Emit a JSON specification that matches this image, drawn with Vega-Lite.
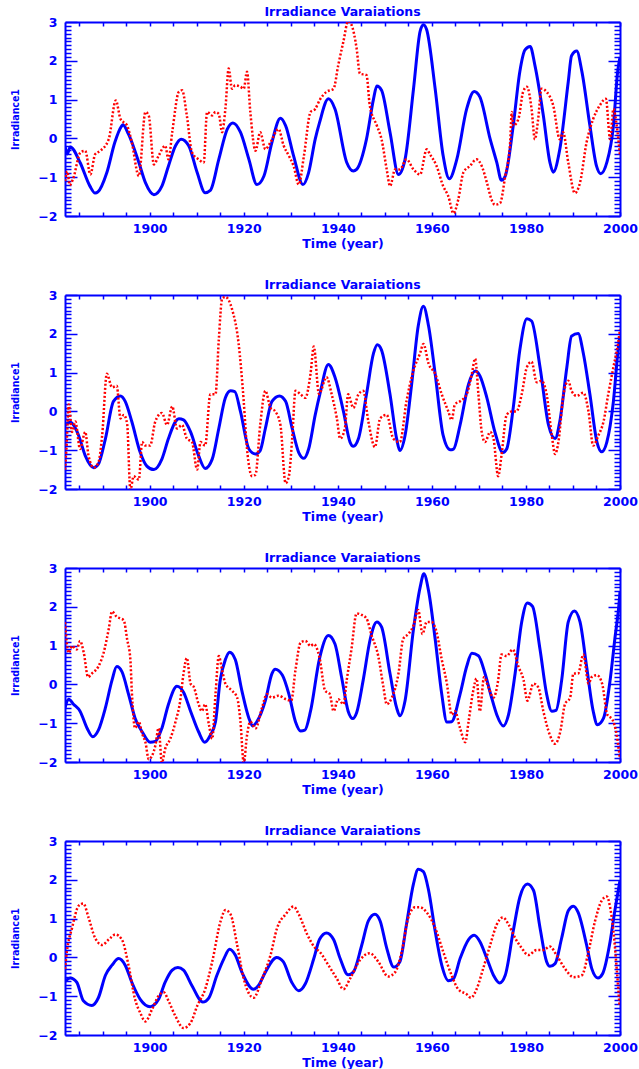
{
"$schema": "https://vega.github.io/schema/vega-lite/v6.json",
"background": "white",
"padding": {"left": 10, "top": 5, "right": 0, "bottom": 0},
"spacing": 28,
"config": {
  "view": {"stroke": null},
  "font": "DejaVu Sans",
  "title": {"font": "DejaVu Sans", "fontSize": 12.5, "fontWeight": "bold", "color": "#0000ff", "offset": -2},
  "axis": {"domainColor": "#0000ff", "domainWidth": 2, "tickColor": "#0000ff", "tickWidth": 1.5, "labelColor": "#0000ff", "labelFont": "DejaVu Sans", "labelFontWeight": "bold", "labelFontSize": 12.5, "labelFlush": false, "labelOverlap": false, "labelBound": false, "grid": false, "titleColor": "#0000ff", "titleFont": "DejaVu Sans", "titleFontWeight": "bold", "titleFontSize": 12.5}
},
"datasets": {
"p1b": [{"t":1882,"v":-0.2},{"t":1882.5,"v":-0.4},{"t":1883.1,"v":-0.22},{"t":1885.2,"v":-0.62},{"t":1887.3,"v":-1.23},{"t":1888.4,"v":-1.41},{"t":1889,"v":-1.38},{"t":1890.9,"v":-0.88},{"t":1892.6,"v":-0.1},{"t":1894.0,"v":0.31},{"t":1894.3,"v":0.35},{"t":1895.5,"v":0.11},{"t":1897.7,"v":-0.62},{"t":1899.1,"v":-1.14},{"t":1900.9,"v":-1.45},{"t":1902.6,"v":-1.23},{"t":1904.0,"v":-0.71},{"t":1905.5,"v":-0.19},{"t":1906.7,"v":-0.02},{"t":1908.3,"v":-0.19},{"t":1910.1,"v":-0.88},{"t":1911.8,"v":-1.4},{"t":1912.9,"v":-1.34},{"t":1914.7,"v":-0.54},{"t":1916.5,"v":0.24},{"t":1917.7,"v":0.4},{"t":1919.3,"v":0.16},{"t":1921.1,"v":-0.54},{"t":1922.8,"v":-1.19},{"t":1924.3,"v":-0.97},{"t":1926.0,"v":-0.1},{"t":1927.8,"v":0.52},{"t":1928.9,"v":0.33},{"t":1930.6,"v":-0.45},{"t":1932.6,"v":-1.19},{"t":1933.8,"v":-0.88},{"t":1935.2,"v":-0.02},{"t":1936.1,"v":0.4},{"t":1938.0,"v":1.02},{"t":1939.4,"v":0.76},{"t":1941.9,"v":-0.62},{"t":1943.3,"v":-0.84},{"t":1944.0,"v":-0.8},{"t":1946.1,"v":-0.02},{"t":1947.6,"v":1.02},{"t":1948.3,"v":1.35},{"t":1949.3,"v":1.24},{"t":1951.1,"v":0.16},{"t":1952.9,"v":-0.93},{"t":1954.3,"v":-0.54},{"t":1956.1,"v":1.28},{"t":1957.5,"v":2.76},{"t":1958.2,"v":2.93},{"t":1958.9,"v":2.8},{"t":1960.7,"v":1.28},{"t":1962.4,"v":-0.45},{"t":1963.7,"v":-1.04},{"t":1965.3,"v":-0.54},{"t":1967.4,"v":0.76},{"t":1969.0,"v":1.21},{"t":1970.2,"v":1.07},{"t":1972.4,"v":-0.02},{"t":1973.8,"v":-0.62},{"t":1974.8,"v":-1.08},{"t":1975.6,"v":-0.97},{"t":1977.3,"v":0.33},{"t":1978.7,"v":1.72},{"t":1979.8,"v":2.28},{"t":1980.9,"v":2.37},{"t":1981.9,"v":1.89},{"t":1983.7,"v":0.59},{"t":1985.1,"v":-0.62},{"t":1985.8,"v":-0.87},{"t":1987.2,"v":-0.28},{"t":1989.0,"v":1.46},{"t":1989.7,"v":2.13},{"t":1990.8,"v":2.25},{"t":1991.9,"v":1.72},{"t":1993.6,"v":0.33},{"t":1995.0,"v":-0.71},{"t":1995.9,"v":-0.91},{"t":1997.2,"v":-0.62},{"t":1998.6,"v":0.33},{"t":1999.5,"v":1.72},{"t":2000,"v":2.1}],
"p1r": [{"t":1882,"v":-1.1},{"t":1882.5,"v":-0.85},{"t":1883,"v":-1.2},{"t":1883.7,"v":-1.05},{"t":1885.3,"v":-0.36},{"t":1886.3,"v":-0.32},{"t":1887.4,"v":-0.93},{"t":1888.4,"v":-0.41},{"t":1889.5,"v":-0.32},{"t":1891.3,"v":-0.02},{"t":1892.8,"v":0.98},{"t":1893.8,"v":0.5},{"t":1895.2,"v":0.33},{"t":1896.2,"v":-0.1},{"t":1897.7,"v":-0.97},{"t":1899.1,"v":0.68},{"t":1899.8,"v":0.59},{"t":1900.9,"v":-0.67},{"t":1901.9,"v":-0.45},{"t":1903.3,"v":-0.19},{"t":1904.0,"v":-0.54},{"t":1904.8,"v":0.16},{"t":1906.2,"v":1.2},{"t":1906.9,"v":1.24},{"t":1907.9,"v":0.59},{"t":1909.0,"v":-0.36},{"t":1910.4,"v":-0.54},{"t":1911.5,"v":-0.62},{"t":1912.2,"v":0.68},{"t":1913.3,"v":0.59},{"t":1914.0,"v":0.68},{"t":1914.7,"v":0.63},{"t":1915.4,"v":0.16},{"t":1916.1,"v":0.76},{"t":1916.8,"v":1.8},{"t":1917.5,"v":1.28},{"t":1918.2,"v":1.37},{"t":1919.3,"v":1.33},{"t":1920.0,"v":1.28},{"t":1920.7,"v":1.72},{"t":1921.4,"v":0.68},{"t":1922.5,"v":-0.32},{"t":1923.5,"v":0.16},{"t":1924.6,"v":-0.28},{"t":1925.7,"v":-0.1},{"t":1927.4,"v":0.24},{"t":1928.5,"v":-0.19},{"t":1929.6,"v":-0.45},{"t":1930.6,"v":-0.71},{"t":1931.7,"v":-1.19},{"t":1932.8,"v":-0.45},{"t":1934.2,"v":0.68},{"t":1935.2,"v":0.76},{"t":1936.2,"v":1.0},{"t":1937.6,"v":1.2},{"t":1939.1,"v":1.28},{"t":1940.1,"v":1.89},{"t":1941.2,"v":2.5},{"t":1942.2,"v":3.02},{"t":1942.9,"v":2.93},{"t":1944.0,"v":2.32},{"t":1944.7,"v":1.67},{"t":1946.1,"v":1.63},{"t":1946.8,"v":0.85},{"t":1948.3,"v":0.33},{"t":1949.3,"v":-0.02},{"t":1950.4,"v":-0.8},{"t":1951.1,"v":-1.23},{"t":1952.2,"v":-0.8},{"t":1953.2,"v":-0.8},{"t":1954.6,"v":-0.54},{"t":1956.1,"v":-0.8},{"t":1957.5,"v":-0.93},{"t":1958.9,"v":-0.28},{"t":1959.6,"v":-0.41},{"t":1961.0,"v":-0.71},{"t":1962.4,"v":-1.23},{"t":1963.5,"v":-1.49},{"t":1964.6,"v":-1.93},{"t":1965.6,"v":-1.58},{"t":1966.7,"v":-0.88},{"t":1968.1,"v":-0.71},{"t":1969.5,"v":-0.54},{"t":1970.6,"v":-0.71},{"t":1971.7,"v":-1.14},{"t":1972.7,"v":-1.58},{"t":1973.4,"v":-1.71},{"t":1974.5,"v":-1.67},{"t":1975.6,"v":-0.97},{"t":1976.6,"v":-0.19},{"t":1977.0,"v":0.68},{"t":1977.3,"v":0.33},{"t":1978.4,"v":0.5},{"t":1979.4,"v":1.2},{"t":1980.2,"v":1.33},{"t":1981.2,"v":0.76},{"t":1981.9,"v":-0.02},{"t":1982.6,"v":0.5},{"t":1983.3,"v":1.28},{"t":1984.4,"v":1.2},{"t":1985.8,"v":0.85},{"t":1987.2,"v":-0.02},{"t":1987.9,"v":0.16},{"t":1989.0,"v":-0.62},{"t":1990.4,"v":-1.41},{"t":1991.5,"v":-1.14},{"t":1992.9,"v":-0.1},{"t":1994.3,"v":0.5},{"t":1995.7,"v":0.85},{"t":1997.0,"v":1.02},{"t":1997.9,"v":-0.02},{"t":1998.6,"v":0.76},{"t":1999.3,"v":0.33},{"t":2000,"v":-0.45}],
"p2b": [{"t":1882,"v":-0.35},{"t":1883.1,"v":-0.28},{"t":1884.9,"v":-0.62},{"t":1886.3,"v":-1.14},{"t":1888.1,"v":-1.45},{"t":1889.1,"v":-1.36},{"t":1890.6,"v":-0.7},{"t":1892.3,"v":0.26},{"t":1893.8,"v":0.4},{"t":1894.8,"v":0.26},{"t":1896.2,"v":-0.26},{"t":1898.0,"v":-1.06},{"t":1899.4,"v":-1.41},{"t":1900.9,"v":-1.5},{"t":1902.6,"v":-1.23},{"t":1904.0,"v":-0.7},{"t":1905.5,"v":-0.26},{"t":1906.2,"v":-0.19},{"t":1907.2,"v":-0.22},{"t":1908.7,"v":-0.53},{"t":1910.4,"v":-1.14},{"t":1911.8,"v":-1.47},{"t":1913.3,"v":-1.23},{"t":1914.7,"v":-0.44},{"t":1916.1,"v":0.35},{"t":1917.2,"v":0.53},{"t":1918.1,"v":0.51},{"t":1919.3,"v":0.0},{"t":1921.1,"v":-0.97},{"t":1922.5,"v":-1.1},{"t":1923.5,"v":-1.01},{"t":1924.6,"v":-0.44},{"t":1926.0,"v":0.26},{"t":1927.6,"v":0.4},{"t":1928.9,"v":0.26},{"t":1930.3,"v":-0.44},{"t":1931.7,"v":-1.06},{"t":1932.8,"v":-1.21},{"t":1933.8,"v":-0.97},{"t":1935.2,"v":-0.09},{"t":1936.2,"v":0.45},{"t":1938.0,"v":1.21},{"t":1939.4,"v":0.88},{"t":1941.2,"v":0.0},{"t":1942.6,"v":-0.79},{"t":1943.3,"v":-0.9},{"t":1944.4,"v":-0.7},{"t":1946.1,"v":0.44},{"t":1947.6,"v":1.5},{"t":1948.4,"v":1.72},{"t":1949.3,"v":1.58},{"t":1951.1,"v":0.44},{"t":1952.5,"v":-0.7},{"t":1953.2,"v":-1.01},{"t":1954.3,"v":-0.62},{"t":1955.7,"v":0.7},{"t":1957.1,"v":2.2},{"t":1958.2,"v":2.71},{"t":1959.3,"v":2.2},{"t":1960.7,"v":0.97},{"t":1962.4,"v":-0.62},{"t":1963.9,"v":-0.99},{"t":1964.6,"v":-0.97},{"t":1966.0,"v":-0.35},{"t":1967.8,"v":0.7},{"t":1969.2,"v":1.04},{"t":1970.2,"v":0.92},{"t":1971.7,"v":0.35},{"t":1973.4,"v":-0.53},{"t":1975.1,"v":-1.06},{"t":1975.9,"v":-0.97},{"t":1977.3,"v":0.09},{"t":1978.7,"v":1.58},{"t":1980.2,"v":2.39},{"t":1981.2,"v":2.33},{"t":1983.0,"v":1.14},{"t":1984.8,"v":-0.35},{"t":1986.2,"v":-0.7},{"t":1987.2,"v":-0.26},{"t":1988.7,"v":1.14},{"t":1989.7,"v":1.94},{"t":1991.1,"v":2.01},{"t":1992.2,"v":1.5},{"t":1993.6,"v":0.44},{"t":1995.1,"v":-0.79},{"t":1996.1,"v":-1.04},{"t":1997.2,"v":-0.79},{"t":1998.6,"v":0.26},{"t":1999.6,"v":1.58},{"t":2000,"v":1.94}],
"p2r": [{"t":1882,"v":-1.5},{"t":1882.3,"v":-0.97},{"t":1882.8,"v":0.18},{"t":1883.5,"v":-0.53},{"t":1884.2,"v":-0.26},{"t":1885.2,"v":-0.97},{"t":1886.3,"v":-0.53},{"t":1887.0,"v":-1.14},{"t":1888.1,"v":-1.45},{"t":1889.1,"v":-1.32},{"t":1889.9,"v":-0.62},{"t":1890.9,"v":0.97},{"t":1892.0,"v":0.62},{"t":1893.0,"v":0.66},{"t":1893.8,"v":-0.18},{"t":1894.5,"v":-0.09},{"t":1895.2,"v":-0.31},{"t":1895.9,"v":-2.02},{"t":1896.6,"v":-1.67},{"t":1897.7,"v":-1.76},{"t":1898.4,"v":-0.79},{"t":1899.1,"v":-0.88},{"t":1900.1,"v":-0.88},{"t":1901.2,"v":-0.26},{"t":1902.6,"v":-0.04},{"t":1903.7,"v":-0.35},{"t":1904.8,"v":0.13},{"t":1905.8,"v":-0.44},{"t":1906.9,"v":-0.35},{"t":1907.9,"v":-0.7},{"t":1909.0,"v":-0.79},{"t":1910.1,"v":-1.5},{"t":1910.8,"v":-0.79},{"t":1911.8,"v":-0.88},{"t":1912.9,"v":0.44},{"t":1914.0,"v":0.44},{"t":1914.7,"v":1.85},{"t":1915.4,"v":2.9},{"t":1916.1,"v":2.95},{"t":1917.5,"v":2.64},{"t":1918.9,"v":1.76},{"t":1920.0,"v":0.26},{"t":1920.7,"v":-0.97},{"t":1921.8,"v":-1.67},{"t":1922.5,"v":-1.63},{"t":1923.5,"v":-0.35},{"t":1924.6,"v":0.53},{"t":1925.7,"v":0.09},{"t":1926.7,"v":0.0},{"t":1927.8,"v":-0.35},{"t":1928.9,"v":-1.85},{"t":1929.6,"v":-1.67},{"t":1930.3,"v":-0.7},{"t":1931.0,"v":0.53},{"t":1932.1,"v":0.44},{"t":1933.1,"v":0.35},{"t":1934.2,"v":0.97},{"t":1934.9,"v":1.67},{"t":1936.0,"v":0.45},{"t":1937.6,"v":0.88},{"t":1938.7,"v":0.44},{"t":1939.8,"v":-0.18},{"t":1940.5,"v":-0.7},{"t":1941.5,"v":-0.44},{"t":1942.2,"v":0.44},{"t":1943.3,"v":0.09},{"t":1944.4,"v":0.44},{"t":1945.4,"v":0.53},{"t":1946.5,"v":-0.26},{"t":1947.9,"v":-0.92},{"t":1949.0,"v":-0.18},{"t":1950.4,"v":-0.09},{"t":1951.8,"v":-0.7},{"t":1953.2,"v":-0.79},{"t":1954.6,"v":0.26},{"t":1956.1,"v":1.06},{"t":1957.5,"v":1.5},{"t":1958.2,"v":1.74},{"t":1959.3,"v":1.23},{"t":1960.7,"v":0.97},{"t":1962.1,"v":0.44},{"t":1963.5,"v":0.0},{"t":1964.2,"v":-0.22},{"t":1964.9,"v":0.18},{"t":1966.0,"v":0.26},{"t":1967.4,"v":0.44},{"t":1968.5,"v":0.97},{"t":1969.2,"v":1.36},{"t":1969.9,"v":0.44},{"t":1970.6,"v":-0.53},{"t":1971.3,"v":-0.79},{"t":1972.4,"v":-0.53},{"t":1973.1,"v":-0.7},{"t":1974.1,"v":-1.67},{"t":1974.8,"v":-1.14},{"t":1975.9,"v":-0.09},{"t":1977.0,"v":0.0},{"t":1978.0,"v":0.0},{"t":1979.1,"v":0.44},{"t":1980.2,"v":1.14},{"t":1981.2,"v":1.28},{"t":1982.3,"v":0.75},{"t":1983.3,"v":0.79},{"t":1984.4,"v":0.44},{"t":1985.5,"v":-0.62},{"t":1986.2,"v":-1.1},{"t":1986.9,"v":-0.79},{"t":1988.0,"v":0.44},{"t":1989.0,"v":0.79},{"t":1989.7,"v":0.53},{"t":1990.8,"v":0.4},{"t":1992.2,"v":0.48},{"t":1993.3,"v":0.0},{"t":1994.3,"v":-0.88},{"t":1995.4,"v":-0.62},{"t":1996.5,"v":-0.26},{"t":1997.5,"v":0.44},{"t":1998.6,"v":1.14},{"t":1999.6,"v":1.76},{"t":2000,"v":2.11}],
"p3b": [{"t":1882,"v":-0.6},{"t":1882.8,"v":-0.38},{"t":1883.8,"v":-0.51},{"t":1885.2,"v":-0.69},{"t":1886.7,"v":-1.13},{"t":1887.9,"v":-1.35},{"t":1889.1,"v":-1.18},{"t":1890.6,"v":-0.6},{"t":1892.0,"v":0.11},{"t":1893.0,"v":0.46},{"t":1894.1,"v":0.33},{"t":1895.5,"v":-0.25},{"t":1896.9,"v":-0.87},{"t":1898.4,"v":-1.22},{"t":1900.1,"v":-1.49},{"t":1901.2,"v":-1.47},{"t":1902.6,"v":-1.13},{"t":1904.0,"v":-0.51},{"t":1905.8,"v":-0.05},{"t":1907.2,"v":-0.2},{"t":1908.7,"v":-0.69},{"t":1910.4,"v":-1.22},{"t":1911.7,"v":-1.49},{"t":1912.9,"v":-1.31},{"t":1914.0,"v":-0.96},{"t":1915.0,"v":0.11},{"t":1916.1,"v":0.64},{"t":1917.0,"v":0.83},{"t":1918.2,"v":0.64},{"t":1919.6,"v":-0.16},{"t":1921.1,"v":-0.87},{"t":1921.9,"v":-1.07},{"t":1922.8,"v":-0.96},{"t":1924.6,"v":-0.42},{"t":1926.0,"v":0.28},{"t":1926.7,"v":0.39},{"t":1928.2,"v":0.24},{"t":1929.6,"v":-0.25},{"t":1931.0,"v":-0.96},{"t":1932.1,"v":-1.2},{"t":1933.0,"v":-1.18},{"t":1934.2,"v":-0.69},{"t":1936.1,"v":0.66},{"t":1938.0,"v":1.26},{"t":1939.4,"v":1.04},{"t":1940.8,"v":0.19},{"t":1942.2,"v":-0.69},{"t":1943.2,"v":-0.88},{"t":1944.0,"v":-0.73},{"t":1945.4,"v":0.11},{"t":1946.9,"v":1.17},{"t":1948.3,"v":1.61},{"t":1949.3,"v":1.48},{"t":1951.1,"v":0.28},{"t":1952.5,"v":-0.6},{"t":1953.2,"v":-0.81},{"t":1954.3,"v":-0.42},{"t":1956.1,"v":1.43},{"t":1957.5,"v":2.5},{"t":1958.3,"v":2.85},{"t":1959.3,"v":2.41},{"t":1960.7,"v":1.17},{"t":1962.1,"v":-0.25},{"t":1963.2,"v":-0.97},{"t":1964.2,"v":-0.96},{"t":1966.0,"v":-0.25},{"t":1967.4,"v":0.46},{"t":1968.5,"v":0.8},{"t":1969.9,"v":0.74},{"t":1971.3,"v":0.28},{"t":1972.7,"v":-0.34},{"t":1973.8,"v":-0.78},{"t":1975.2,"v":-1.07},{"t":1976.3,"v":-0.78},{"t":1977.7,"v":0.28},{"t":1979.1,"v":1.61},{"t":1980.3,"v":2.1},{"t":1981.4,"v":2.01},{"t":1983.0,"v":0.9},{"t":1984.4,"v":-0.25},{"t":1985.5,"v":-0.69},{"t":1986.4,"v":-0.67},{"t":1987.6,"v":0.11},{"t":1989.0,"v":1.61},{"t":1990.3,"v":1.89},{"t":1991.5,"v":1.61},{"t":1992.9,"v":0.46},{"t":1994.3,"v":-0.69},{"t":1995.2,"v":-1.04},{"t":1996.5,"v":-0.87},{"t":1997.9,"v":0.11},{"t":1998.9,"v":1.17},{"t":1999.9,"v":2.23},{"t":2000,"v":2.4}],
"p3r": [{"t":1882,"v":1.6},{"t":1882.8,"v":0.81},{"t":1883.5,"v":0.99},{"t":1884.5,"v":0.9},{"t":1885.2,"v":1.12},{"t":1886.0,"v":0.81},{"t":1886.9,"v":0.19},{"t":1887.7,"v":0.28},{"t":1889.1,"v":0.46},{"t":1890.2,"v":0.81},{"t":1891.3,"v":1.43},{"t":1892.0,"v":1.88},{"t":1893.0,"v":1.74},{"t":1893.8,"v":1.7},{"t":1894.5,"v":1.65},{"t":1895.2,"v":1.17},{"t":1895.9,"v":0.64},{"t":1896.2,"v":-0.16},{"t":1896.9,"v":-1.13},{"t":1897.7,"v":-0.96},{"t":1898.4,"v":-1.27},{"t":1899.1,"v":-1.49},{"t":1899.8,"v":-1.93},{"t":1900.5,"v":-1.84},{"t":1901.2,"v":-1.58},{"t":1901.9,"v":-1.13},{"t":1902.6,"v":-2.02},{"t":1903.3,"v":-1.66},{"t":1904.4,"v":-1.4},{"t":1905.5,"v":-0.96},{"t":1906.5,"v":-0.42},{"t":1907.2,"v":0.28},{"t":1907.9,"v":0.68},{"t":1908.7,"v":0.02},{"t":1909.4,"v":-0.07},{"t":1910.4,"v":-0.51},{"t":1911.1,"v":-0.69},{"t":1911.8,"v":-0.51},{"t":1912.6,"v":-1.04},{"t":1913.3,"v":-1.4},{"t":1914.0,"v":-0.25},{"t":1914.7,"v":0.73},{"t":1915.4,"v":0.37},{"t":1916.1,"v":0.02},{"t":1917.5,"v":-0.16},{"t":1918.6,"v":-0.34},{"t":1919.3,"v":-0.96},{"t":1920.0,"v":-2.02},{"t":1920.7,"v":-1.31},{"t":1921.4,"v":-0.96},{"t":1922.5,"v":-1.13},{"t":1923.9,"v":-0.6},{"t":1924.9,"v":-0.25},{"t":1926.0,"v":-0.34},{"t":1927.4,"v":-0.29},{"t":1928.9,"v":-0.38},{"t":1930.1,"v":-0.42},{"t":1931.0,"v":0.37},{"t":1932.1,"v":1.08},{"t":1933.1,"v":1.12},{"t":1934.2,"v":0.99},{"t":1934.9,"v":1.04},{"t":1936.1,"v":0.7},{"t":1937.3,"v":-0.16},{"t":1938.3,"v":-0.25},{"t":1939.1,"v":-0.69},{"t":1940.1,"v":-0.38},{"t":1941.2,"v":-0.51},{"t":1941.9,"v":0.11},{"t":1942.9,"v":0.9},{"t":1944.0,"v":1.83},{"t":1945.1,"v":1.79},{"t":1946.1,"v":1.7},{"t":1947.2,"v":1.26},{"t":1948.6,"v":0.73},{"t":1949.7,"v":-0.07},{"t":1950.4,"v":-0.51},{"t":1951.5,"v":-0.34},{"t":1952.9,"v":0.28},{"t":1953.9,"v":1.17},{"t":1955.0,"v":1.3},{"t":1956.1,"v":1.52},{"t":1957.1,"v":1.92},{"t":1958.0,"v":1.3},{"t":1958.9,"v":1.61},{"t":1959.9,"v":1.61},{"t":1961.0,"v":1.35},{"t":1962.1,"v":0.64},{"t":1963.2,"v":0.02},{"t":1964.2,"v":-0.78},{"t":1964.9,"v":-0.69},{"t":1966.0,"v":-1.13},{"t":1967.1,"v":-1.49},{"t":1967.8,"v":-0.96},{"t":1968.8,"v":-0.16},{"t":1969.5,"v":0.15},{"t":1970.2,"v":-0.69},{"t":1971.1,"v":0.19},{"t":1972.0,"v":-0.07},{"t":1973.1,"v":-0.34},{"t":1974.1,"v":0.11},{"t":1974.8,"v":0.77},{"t":1975.9,"v":0.73},{"t":1977.2,"v":0.9},{"t":1978.4,"v":0.46},{"t":1979.5,"v":0.11},{"t":1980.3,"v":-0.42},{"t":1981.6,"v":0.02},{"t":1982.6,"v":-0.07},{"t":1983.7,"v":-0.69},{"t":1985.1,"v":-1.31},{"t":1986.2,"v":-1.53},{"t":1987.3,"v":-1.22},{"t":1988.3,"v":-0.51},{"t":1989.4,"v":-0.34},{"t":1990.1,"v":0.28},{"t":1991.1,"v":0.28},{"t":1992.2,"v":0.77},{"t":1993.3,"v":0.02},{"t":1994.0,"v":0.19},{"t":1995.1,"v":0.24},{"t":1996.2,"v":0.02},{"t":1997.3,"v":-0.78},{"t":1998.4,"v":-0.91},{"t":1999.3,"v":-1.31},{"t":2000,"v":-1.93}],
"p4b": [{"t":1882,"v":-0.62},{"t":1883.1,"v":-0.53},{"t":1884.5,"v":-0.64},{"t":1885.9,"v":-1.12},{"t":1887.7,"v":-1.24},{"t":1889.1,"v":-1.04},{"t":1890.6,"v":-0.46},{"t":1892.0,"v":-0.2},{"t":1893.4,"v":-0.03},{"t":1894.8,"v":-0.2},{"t":1896.2,"v":-0.64},{"t":1898.0,"v":-1.08},{"t":1900.1,"v":-1.27},{"t":1901.9,"v":-1.08},{"t":1903.3,"v":-0.64},{"t":1904.8,"v":-0.33},{"t":1906.0,"v":-0.26},{"t":1907.2,"v":-0.33},{"t":1909.0,"v":-0.73},{"t":1911.3,"v":-1.15},{"t":1912.6,"v":-1.04},{"t":1914.3,"v":-0.46},{"t":1915.8,"v":-0.03},{"t":1917.0,"v":0.21},{"t":1918.2,"v":0.06},{"t":1919.6,"v":-0.38},{"t":1922.1,"v":-0.82},{"t":1923.1,"v":-0.73},{"t":1924.6,"v":-0.38},{"t":1927.0,"v":0.0},{"t":1928.4,"v":-0.11},{"t":1930.2,"v":-0.64},{"t":1931.7,"v":-0.86},{"t":1933.1,"v":-0.68},{"t":1934.9,"v":-0.03},{"t":1936.1,"v":0.46},{"t":1937.6,"v":0.63},{"t":1939.1,"v":0.46},{"t":1940.5,"v":-0.03},{"t":1942.2,"v":-0.45},{"t":1943.3,"v":-0.38},{"t":1945.1,"v":0.32},{"t":1946.5,"v":0.94},{"t":1947.9,"v":1.11},{"t":1949.0,"v":0.94},{"t":1950.4,"v":0.24},{"t":1951.9,"v":-0.25},{"t":1953.2,"v":-0.11},{"t":1954.6,"v":0.85},{"t":1956.1,"v":1.9},{"t":1957.1,"v":2.27},{"t":1958.2,"v":2.21},{"t":1959.3,"v":1.73},{"t":1960.7,"v":0.68},{"t":1962.1,"v":-0.2},{"t":1963.5,"v":-0.6},{"t":1964.6,"v":-0.55},{"t":1966.0,"v":-0.03},{"t":1967.8,"v":0.46},{"t":1969.0,"v":0.57},{"t":1970.2,"v":0.41},{"t":1971.7,"v":-0.03},{"t":1973.1,"v":-0.46},{"t":1974.4,"v":-0.66},{"t":1975.6,"v":-0.46},{"t":1977.3,"v":0.68},{"t":1978.7,"v":1.55},{"t":1980.3,"v":1.89},{"t":1981.6,"v":1.73},{"t":1983.0,"v":0.76},{"t":1984.4,"v":-0.11},{"t":1985.1,"v":-0.23},{"t":1986.2,"v":-0.16},{"t":1987.6,"v":0.5},{"t":1989.0,"v":1.2},{"t":1990.1,"v":1.32},{"t":1991.1,"v":1.16},{"t":1992.9,"v":0.32},{"t":1994.0,"v":-0.29},{"t":1995.3,"v":-0.53},{"t":1996.3,"v":-0.42},{"t":1997.9,"v":0.41},{"t":1998.9,"v":1.2},{"t":2000,"v":1.99}],
"p4r": [{"t":1882,"v":-0.3},{"t":1882.4,"v":0.15},{"t":1883.5,"v":0.76},{"t":1884.9,"v":1.33},{"t":1885.9,"v":1.39},{"t":1887.0,"v":1.03},{"t":1888.4,"v":0.5},{"t":1889.9,"v":0.32},{"t":1891.3,"v":0.46},{"t":1892.7,"v":0.59},{"t":1894.1,"v":0.46},{"t":1895.5,"v":-0.2},{"t":1896.9,"v":-1.08},{"t":1898.0,"v":-1.43},{"t":1899.1,"v":-1.65},{"t":1900.5,"v":-1.34},{"t":1901.9,"v":-0.99},{"t":1903.0,"v":-0.9},{"t":1904.0,"v":-1.12},{"t":1905.5,"v":-1.52},{"t":1907.2,"v":-1.82},{"t":1908.7,"v":-1.69},{"t":1910.1,"v":-1.25},{"t":1911.8,"v":-0.82},{"t":1913.3,"v":-0.11},{"t":1915.1,"v":0.94},{"t":1916.1,"v":1.22},{"t":1917.2,"v":1.11},{"t":1918.6,"v":0.32},{"t":1920.0,"v":-0.55},{"t":1922.1,"v":-1.04},{"t":1923.9,"v":-0.55},{"t":1925.7,"v":0.06},{"t":1927.1,"v":0.76},{"t":1928.9,"v":1.11},{"t":1930.6,"v":1.31},{"t":1931.7,"v":1.11},{"t":1933.5,"v":0.59},{"t":1935.2,"v":0.24},{"t":1936.1,"v":0.15},{"t":1938.0,"v":-0.2},{"t":1939.8,"v":-0.55},{"t":1941.2,"v":-0.82},{"t":1942.6,"v":-0.55},{"t":1944.7,"v":-0.07},{"t":1946.8,"v":0.11},{"t":1948.6,"v":-0.11},{"t":1950.7,"v":-0.49},{"t":1952.2,"v":-0.38},{"t":1953.6,"v":0.15},{"t":1955.0,"v":1.03},{"t":1956.4,"v":1.29},{"t":1957.5,"v":1.29},{"t":1958.9,"v":1.16},{"t":1960.7,"v":0.76},{"t":1962.4,"v":0.15},{"t":1964.2,"v":-0.46},{"t":1965.6,"v":-0.82},{"t":1967.4,"v":-0.95},{"t":1968.3,"v":-1.04},{"t":1969.5,"v":-0.82},{"t":1970.9,"v":-0.29},{"t":1972.4,"v":0.32},{"t":1973.8,"v":0.85},{"t":1975.1,"v":1.03},{"t":1976.3,"v":0.85},{"t":1977.7,"v":0.5},{"t":1979.1,"v":0.24},{"t":1980.5,"v":0.06},{"t":1982.3,"v":0.19},{"t":1983.7,"v":0.19},{"t":1985.1,"v":0.28},{"t":1986.5,"v":0.06},{"t":1988.3,"v":-0.29},{"t":1990.1,"v":-0.51},{"t":1991.9,"v":-0.46},{"t":1993.3,"v":0.15},{"t":1994.7,"v":0.94},{"t":1996.1,"v":1.46},{"t":1997.2,"v":1.57},{"t":1997.9,"v":1.29},{"t":1998.6,"v":0.68},{"t":1999.3,"v":-0.29},{"t":1999.9,"v":-1.25}]
},
"vconcat": [
{"width": 555, "height": 194, "title": "Irradiance Varaiations", "resolve": {"axis": {"x": "independent", "y": "independent"}}, "layer": [
 {"data": {"name": "p1b"}, "mark": {"type": "line", "color": "#0000ff", "strokeWidth": 3, "interpolate": "monotone", "clip": true},
  "encoding": {
   "x": {"field": "t", "type": "quantitative", "scale": {"domain": [1882, 2000], "nice": false, "zero": false}, "axis": {"orient": "bottom", "values": [1885,1890,1895,1900,1905,1910,1915,1920,1925,1930,1935,1940,1945,1950,1955,1960,1965,1970,1975,1980,1985,1990,1995,2000], "format": "d", "tickSize": -4, "labelOverlap": false, "labelExpr": "datum.value % 20 == 0 ? datum.label : ''", "labelPadding": 10, "title": "Time (year)", "titlePadding": 3}},
   "y": {"field": "v", "type": "quantitative", "scale": {"domain": [-2, 3], "nice": false, "zero": false}, "axis": {"orient": "left", "values": [-2,-1.9,-1.8,-1.7,-1.6,-1.5,-1.4,-1.3,-1.2,-1.1,-1,-0.9,-0.8,-0.7,-0.6,-0.5,-0.4,-0.3,-0.2,-0.1,0,0.1,0.2,0.3,0.4,0.5,0.6,0.7,0.8,0.9,1,1.1,1.2,1.3,1.4,1.5,1.6,1.7,1.8,1.9,2,2.1,2.2,2.3,2.4,2.5,2.6,2.7,2.8,2.9,3], "tickSize": -12, "tickDash": {"condition": {"test": "datum.value % 1 == 0", "value": [12, 2]}, "value": [6, 30]}, "labels": false, "title": "Irradiance1", "titleFont": "DejaVu Sans Condensed", "titleFontSize": 10.5, "titlePadding": 44}}
  }},
 {"data": {"name": "p1r"}, "mark": {"type": "line", "color": "#ff0000", "strokeWidth": 2.5, "strokeDash": [2, 2], "interpolate": "monotone", "clip": true},
  "encoding": {
   "x": {"field": "t", "type": "quantitative", "scale": {"domain": [1882, 2000], "nice": false, "zero": false}, "axis": {"orient": "top", "values": [1885,1890,1895,1900,1905,1910,1915,1920,1925,1930,1935,1940,1945,1950,1955,1960,1965,1970,1975,1980,1985,1990,1995,2000], "tickSize": -4, "labels": false, "title": null}},
   "y": {"field": "v", "type": "quantitative", "scale": {"domain": [-2, 3], "nice": false, "zero": false}, "axis": {"orient": "right", "values": [-2,-1.9,-1.8,-1.7,-1.6,-1.5,-1.4,-1.3,-1.2,-1.1,-1,-0.9,-0.8,-0.7,-0.6,-0.5,-0.4,-0.3,-0.2,-0.1,0,0.1,0.2,0.3,0.4,0.5,0.6,0.7,0.8,0.9,1,1.1,1.2,1.3,1.4,1.5,1.6,1.7,1.8,1.9,2,2.1,2.2,2.3,2.4,2.5,2.6,2.7,2.8,2.9,3], "tickSize": -12, "tickDash": {"condition": {"test": "datum.value % 1 == 0", "value": [12, 2]}, "value": [6, 30]}, "labels": false, "title": null}}
  }},
 {"data": {"name": "p1b"}, "mark": {"type": "line", "strokeOpacity": 0, "clip": true},
  "encoding": {
   "x": {"field": "t", "type": "quantitative", "scale": {"domain": [1882, 2000], "nice": false, "zero": false}, "axis": null},
   "y": {"field": "v", "type": "quantitative", "scale": {"domain": [-2, 3], "nice": false, "zero": false}, "axis": {"orient": "left", "values": [-2, -1, 0, 1, 2, 3], "format": "d", "ticks": false, "domain": false, "labelPadding": 8, "title": null}}
  }}
]},
{"width": 555, "height": 194, "title": "Irradiance Varaiations", "resolve": {"axis": {"x": "independent", "y": "independent"}}, "layer": [
 {"data": {"name": "p2b"}, "mark": {"type": "line", "color": "#0000ff", "strokeWidth": 3, "interpolate": "monotone", "clip": true},
  "encoding": {
   "x": {"field": "t", "type": "quantitative", "scale": {"domain": [1882, 2000], "nice": false, "zero": false}, "axis": {"orient": "bottom", "values": [1885,1890,1895,1900,1905,1910,1915,1920,1925,1930,1935,1940,1945,1950,1955,1960,1965,1970,1975,1980,1985,1990,1995,2000], "format": "d", "tickSize": -4, "labelOverlap": false, "labelExpr": "datum.value % 20 == 0 ? datum.label : ''", "labelPadding": 10, "title": "Time (year)", "titlePadding": 3}},
   "y": {"field": "v", "type": "quantitative", "scale": {"domain": [-2, 3], "nice": false, "zero": false}, "axis": {"orient": "left", "values": [-2,-1.9,-1.8,-1.7,-1.6,-1.5,-1.4,-1.3,-1.2,-1.1,-1,-0.9,-0.8,-0.7,-0.6,-0.5,-0.4,-0.3,-0.2,-0.1,0,0.1,0.2,0.3,0.4,0.5,0.6,0.7,0.8,0.9,1,1.1,1.2,1.3,1.4,1.5,1.6,1.7,1.8,1.9,2,2.1,2.2,2.3,2.4,2.5,2.6,2.7,2.8,2.9,3], "tickSize": -12, "tickDash": {"condition": {"test": "datum.value % 1 == 0", "value": [12, 2]}, "value": [6, 30]}, "labels": false, "title": "Irradiance1", "titleFont": "DejaVu Sans Condensed", "titleFontSize": 10.5, "titlePadding": 44}}
  }},
 {"data": {"name": "p2r"}, "mark": {"type": "line", "color": "#ff0000", "strokeWidth": 2.5, "strokeDash": [2, 2], "interpolate": "monotone", "clip": true},
  "encoding": {
   "x": {"field": "t", "type": "quantitative", "scale": {"domain": [1882, 2000], "nice": false, "zero": false}, "axis": {"orient": "top", "values": [1885,1890,1895,1900,1905,1910,1915,1920,1925,1930,1935,1940,1945,1950,1955,1960,1965,1970,1975,1980,1985,1990,1995,2000], "tickSize": -4, "labels": false, "title": null}},
   "y": {"field": "v", "type": "quantitative", "scale": {"domain": [-2, 3], "nice": false, "zero": false}, "axis": {"orient": "right", "values": [-2,-1.9,-1.8,-1.7,-1.6,-1.5,-1.4,-1.3,-1.2,-1.1,-1,-0.9,-0.8,-0.7,-0.6,-0.5,-0.4,-0.3,-0.2,-0.1,0,0.1,0.2,0.3,0.4,0.5,0.6,0.7,0.8,0.9,1,1.1,1.2,1.3,1.4,1.5,1.6,1.7,1.8,1.9,2,2.1,2.2,2.3,2.4,2.5,2.6,2.7,2.8,2.9,3], "tickSize": -12, "tickDash": {"condition": {"test": "datum.value % 1 == 0", "value": [12, 2]}, "value": [6, 30]}, "labels": false, "title": null}}
  }},
 {"data": {"name": "p2b"}, "mark": {"type": "line", "strokeOpacity": 0, "clip": true},
  "encoding": {
   "x": {"field": "t", "type": "quantitative", "scale": {"domain": [1882, 2000], "nice": false, "zero": false}, "axis": null},
   "y": {"field": "v", "type": "quantitative", "scale": {"domain": [-2, 3], "nice": false, "zero": false}, "axis": {"orient": "left", "values": [-2, -1, 0, 1, 2, 3], "format": "d", "ticks": false, "domain": false, "labelPadding": 8, "title": null}}
  }}
]},
{"width": 555, "height": 194, "title": "Irradiance Varaiations", "resolve": {"axis": {"x": "independent", "y": "independent"}}, "layer": [
 {"data": {"name": "p3b"}, "mark": {"type": "line", "color": "#0000ff", "strokeWidth": 3, "interpolate": "monotone", "clip": true},
  "encoding": {
   "x": {"field": "t", "type": "quantitative", "scale": {"domain": [1882, 2000], "nice": false, "zero": false}, "axis": {"orient": "bottom", "values": [1885,1890,1895,1900,1905,1910,1915,1920,1925,1930,1935,1940,1945,1950,1955,1960,1965,1970,1975,1980,1985,1990,1995,2000], "format": "d", "tickSize": -4, "labelOverlap": false, "labelExpr": "datum.value % 20 == 0 ? datum.label : ''", "labelPadding": 10, "title": "Time (year)", "titlePadding": 3}},
   "y": {"field": "v", "type": "quantitative", "scale": {"domain": [-2, 3], "nice": false, "zero": false}, "axis": {"orient": "left", "values": [-2,-1.9,-1.8,-1.7,-1.6,-1.5,-1.4,-1.3,-1.2,-1.1,-1,-0.9,-0.8,-0.7,-0.6,-0.5,-0.4,-0.3,-0.2,-0.1,0,0.1,0.2,0.3,0.4,0.5,0.6,0.7,0.8,0.9,1,1.1,1.2,1.3,1.4,1.5,1.6,1.7,1.8,1.9,2,2.1,2.2,2.3,2.4,2.5,2.6,2.7,2.8,2.9,3], "tickSize": -12, "tickDash": {"condition": {"test": "datum.value % 1 == 0", "value": [12, 2]}, "value": [6, 30]}, "labels": false, "title": "Irradiance1", "titleFont": "DejaVu Sans Condensed", "titleFontSize": 10.5, "titlePadding": 44}}
  }},
 {"data": {"name": "p3r"}, "mark": {"type": "line", "color": "#ff0000", "strokeWidth": 2.5, "strokeDash": [2, 2], "interpolate": "monotone", "clip": true},
  "encoding": {
   "x": {"field": "t", "type": "quantitative", "scale": {"domain": [1882, 2000], "nice": false, "zero": false}, "axis": {"orient": "top", "values": [1885,1890,1895,1900,1905,1910,1915,1920,1925,1930,1935,1940,1945,1950,1955,1960,1965,1970,1975,1980,1985,1990,1995,2000], "tickSize": -4, "labels": false, "title": null}},
   "y": {"field": "v", "type": "quantitative", "scale": {"domain": [-2, 3], "nice": false, "zero": false}, "axis": {"orient": "right", "values": [-2,-1.9,-1.8,-1.7,-1.6,-1.5,-1.4,-1.3,-1.2,-1.1,-1,-0.9,-0.8,-0.7,-0.6,-0.5,-0.4,-0.3,-0.2,-0.1,0,0.1,0.2,0.3,0.4,0.5,0.6,0.7,0.8,0.9,1,1.1,1.2,1.3,1.4,1.5,1.6,1.7,1.8,1.9,2,2.1,2.2,2.3,2.4,2.5,2.6,2.7,2.8,2.9,3], "tickSize": -12, "tickDash": {"condition": {"test": "datum.value % 1 == 0", "value": [12, 2]}, "value": [6, 30]}, "labels": false, "title": null}}
  }},
 {"data": {"name": "p3b"}, "mark": {"type": "line", "strokeOpacity": 0, "clip": true},
  "encoding": {
   "x": {"field": "t", "type": "quantitative", "scale": {"domain": [1882, 2000], "nice": false, "zero": false}, "axis": null},
   "y": {"field": "v", "type": "quantitative", "scale": {"domain": [-2, 3], "nice": false, "zero": false}, "axis": {"orient": "left", "values": [-2, -1, 0, 1, 2, 3], "format": "d", "ticks": false, "domain": false, "labelPadding": 8, "title": null}}
  }}
]},
{"width": 555, "height": 194, "title": "Irradiance Varaiations", "resolve": {"axis": {"x": "independent", "y": "independent"}}, "layer": [
 {"data": {"name": "p4b"}, "mark": {"type": "line", "color": "#0000ff", "strokeWidth": 3, "interpolate": "monotone", "clip": true},
  "encoding": {
   "x": {"field": "t", "type": "quantitative", "scale": {"domain": [1882, 2000], "nice": false, "zero": false}, "axis": {"orient": "bottom", "values": [1885,1890,1895,1900,1905,1910,1915,1920,1925,1930,1935,1940,1945,1950,1955,1960,1965,1970,1975,1980,1985,1990,1995,2000], "format": "d", "tickSize": -4, "labelOverlap": false, "labelExpr": "datum.value % 20 == 0 ? datum.label : ''", "labelPadding": 10, "title": "Time (year)", "titlePadding": 3}},
   "y": {"field": "v", "type": "quantitative", "scale": {"domain": [-2, 3], "nice": false, "zero": false}, "axis": {"orient": "left", "values": [-2,-1.9,-1.8,-1.7,-1.6,-1.5,-1.4,-1.3,-1.2,-1.1,-1,-0.9,-0.8,-0.7,-0.6,-0.5,-0.4,-0.3,-0.2,-0.1,0,0.1,0.2,0.3,0.4,0.5,0.6,0.7,0.8,0.9,1,1.1,1.2,1.3,1.4,1.5,1.6,1.7,1.8,1.9,2,2.1,2.2,2.3,2.4,2.5,2.6,2.7,2.8,2.9,3], "tickSize": -12, "tickDash": {"condition": {"test": "datum.value % 1 == 0", "value": [12, 2]}, "value": [6, 30]}, "labels": false, "title": "Irradiance1", "titleFont": "DejaVu Sans Condensed", "titleFontSize": 10.5, "titlePadding": 44}}
  }},
 {"data": {"name": "p4r"}, "mark": {"type": "line", "color": "#ff0000", "strokeWidth": 2.5, "strokeDash": [2, 2], "interpolate": "monotone", "clip": true},
  "encoding": {
   "x": {"field": "t", "type": "quantitative", "scale": {"domain": [1882, 2000], "nice": false, "zero": false}, "axis": {"orient": "top", "values": [1885,1890,1895,1900,1905,1910,1915,1920,1925,1930,1935,1940,1945,1950,1955,1960,1965,1970,1975,1980,1985,1990,1995,2000], "tickSize": -4, "labels": false, "title": null}},
   "y": {"field": "v", "type": "quantitative", "scale": {"domain": [-2, 3], "nice": false, "zero": false}, "axis": {"orient": "right", "values": [-2,-1.9,-1.8,-1.7,-1.6,-1.5,-1.4,-1.3,-1.2,-1.1,-1,-0.9,-0.8,-0.7,-0.6,-0.5,-0.4,-0.3,-0.2,-0.1,0,0.1,0.2,0.3,0.4,0.5,0.6,0.7,0.8,0.9,1,1.1,1.2,1.3,1.4,1.5,1.6,1.7,1.8,1.9,2,2.1,2.2,2.3,2.4,2.5,2.6,2.7,2.8,2.9,3], "tickSize": -12, "tickDash": {"condition": {"test": "datum.value % 1 == 0", "value": [12, 2]}, "value": [6, 30]}, "labels": false, "title": null}}
  }},
 {"data": {"name": "p4b"}, "mark": {"type": "line", "strokeOpacity": 0, "clip": true},
  "encoding": {
   "x": {"field": "t", "type": "quantitative", "scale": {"domain": [1882, 2000], "nice": false, "zero": false}, "axis": null},
   "y": {"field": "v", "type": "quantitative", "scale": {"domain": [-2, 3], "nice": false, "zero": false}, "axis": {"orient": "left", "values": [-2, -1, 0, 1, 2, 3], "format": "d", "ticks": false, "domain": false, "labelPadding": 8, "title": null}}
  }}
]}
]
}
